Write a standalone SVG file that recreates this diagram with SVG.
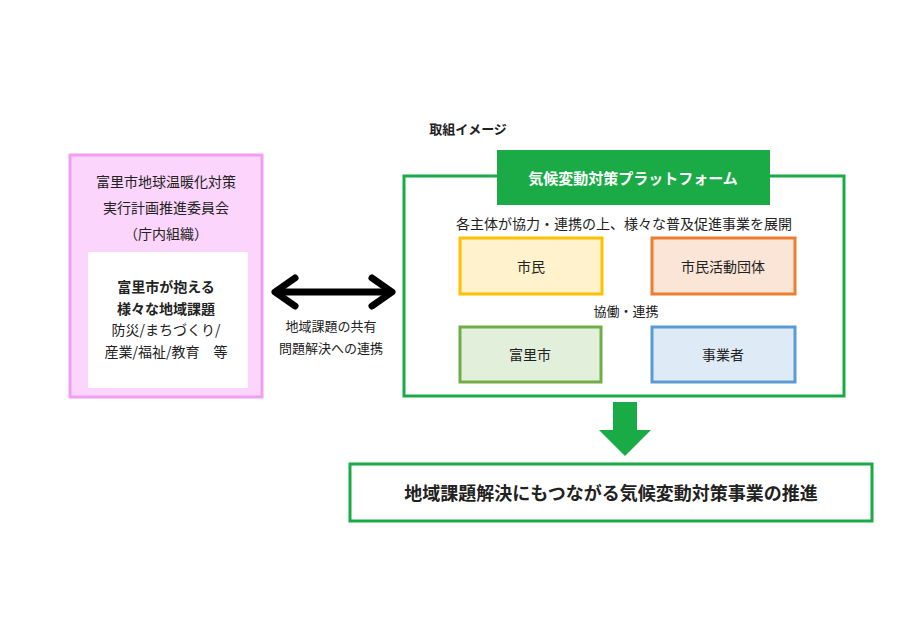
<svg xmlns="http://www.w3.org/2000/svg" width="903" height="638" viewBox="0 0 903 638">
<style>
text{font-family:"Noto Sans CJK JP","Noto Sans",sans-serif;fill:#222;text-anchor:middle}
.b{font-weight:bold}
.n{stroke-width:3}
</style>
<rect width="903" height="638" fill="#fff"/>
<text x="468" y="134" font-size="13" class="b">取組イメージ</text>
<g id="committee">
<rect x="70" y="155" width="192" height="242" fill="#fbd5fb" stroke="#f19ef1" stroke-width="3"/>
<text x="166" y="187" font-size="14">富里市地球温暖化対策</text>
<text x="166" y="213" font-size="14">実行計画推進委員会</text>
<text x="166" y="239" font-size="14">（庁内組織）</text>
<rect x="88" y="252" width="160" height="136" fill="#fff"/>
<text x="166" y="292" font-size="14" class="b">富里市が抱える</text>
<text x="166" y="314" font-size="14" class="b">様々な地域課題</text>
<text x="166" y="335" font-size="14">防災/まちづくり/</text>
<text x="166" y="357" font-size="14">産業/福祉/教育　等</text>
</g>
<g id="connectors">
<path d="M275 292H392" stroke="#000" stroke-width="7"/>
<path d="M295 278L275 292L295 306M372 278L392 292L372 306" fill="none" stroke="#000" stroke-width="7" stroke-linecap="round" stroke-linejoin="round"/>
<text x="331" y="331" font-size="13">地域課題の共有</text>
<text x="331" y="353" font-size="13">問題解決への連携</text>
<ellipse cx="626" cy="311" rx="67" ry="61" fill="none" stroke="#1aaa46" stroke-width="7"/>
<path d="M613 402H637V430H651L625 456L599 430H613Z" fill="#1aaa46"/>
</g>
<g id="platform">
<rect x="404" y="176" width="440" height="220" fill="#fff" stroke="#1aaa46" stroke-width="3"/>
<rect x="497" y="150" width="273" height="55" fill="#1aaa46"/>
<text x="633" y="184" font-size="15" class="b" style="fill:#fff">気候変動対策プラットフォーム</text>
<text x="624" y="229" font-size="14">各主体が協力・連携の上、様々な普及促進事業を展開</text>
<text x="626" y="316" font-size="13">協働・連携</text>
</g>
<g id="citizen"><rect x="460" y="238" width="142" height="56" fill="#fff2cc" stroke="#ffc000" class="n"/><text x="531" y="272" font-size="14">市民</text></g>
<g id="group"><rect x="652" y="238" width="143" height="56" fill="#fbe5d6" stroke="#ed7d31" class="n"/><text x="723" y="272" font-size="14">市民活動団体</text></g>
<g id="city"><rect x="460" y="327" width="141" height="55" fill="#e2efda" stroke="#70ad47" class="n"/><text x="530" y="360" font-size="14">富里市</text></g>
<g id="business"><rect x="652" y="327" width="143" height="55" fill="#deebf7" stroke="#5b9bd5" class="n"/><text x="723" y="360" font-size="14">事業者</text></g>
<g id="result">
<rect x="350" y="464" width="522" height="57" fill="#fff" stroke="#1aaa46" stroke-width="3"/>
<text x="611" y="500" font-size="18" class="b">地域課題解決にもつながる気候変動対策事業の推進</text>
</g>
</svg>
